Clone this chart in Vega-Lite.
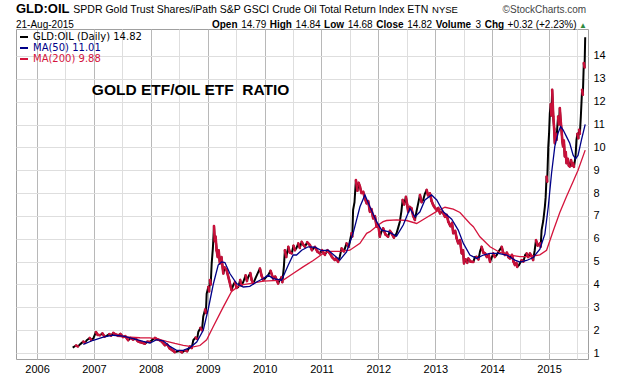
{
  "$schema": "https://vega.github.io/schema/vega-lite/v6.json",
  "width": 572,
  "height": 330,
  "autosize": {"type": "none"},
  "padding": {"left": 16, "top": 29, "right": 32, "bottom": 17},
  "background": "white",
  "config": {
    "view": {"stroke": "#a0a0a0", "strokeWidth": 1},
    "font": "Liberation Sans",
    "text": {"font": "Liberation Sans", "color": "black"}
  },
  "datasets": {
    "price": [
      {"date": "2006/08/18", "value": 1.24}, {"date": "2006/09/08", "value": 1.33}, {"date": "2006/09/20", "value": 1.29},
      {"date": "2006/10/04", "value": 1.38}, {"date": "2006/10/25", "value": 1.50}, {"date": "2006/11/05", "value": 1.45},
      {"date": "2006/11/16", "value": 1.56}, {"date": "2006/12/05", "value": 1.66}, {"date": "2006/12/15", "value": 1.58},
      {"date": "2006/12/28", "value": 1.63}, {"date": "2007/01/14", "value": 1.92}, {"date": "2007/01/25", "value": 1.80},
      {"date": "2007/02/09", "value": 1.78}, {"date": "2007/02/25", "value": 1.86}, {"date": "2007/03/10", "value": 1.72},
      {"date": "2007/03/24", "value": 1.75}, {"date": "2007/04/10", "value": 1.83}, {"date": "2007/04/22", "value": 1.76},
      {"date": "2007/05/05", "value": 1.88}, {"date": "2007/05/20", "value": 1.81}, {"date": "2007/06/06", "value": 1.78},
      {"date": "2007/06/20", "value": 1.84}, {"date": "2007/07/08", "value": 1.70}, {"date": "2007/07/22", "value": 1.74},
      {"date": "2007/08/09", "value": 1.56}, {"date": "2007/08/25", "value": 1.66}, {"date": "2007/09/10", "value": 1.59},
      {"date": "2007/09/28", "value": 1.62}, {"date": "2007/10/10", "value": 1.52}, {"date": "2007/10/23", "value": 1.48},
      {"date": "2007/11/08", "value": 1.45}, {"date": "2007/11/25", "value": 1.41}, {"date": "2007/12/10", "value": 1.50},
      {"date": "2007/12/27", "value": 1.48}, {"date": "2008/01/15", "value": 1.60}, {"date": "2008/01/28", "value": 1.66},
      {"date": "2008/02/12", "value": 1.60}, {"date": "2008/02/29", "value": 1.56}, {"date": "2008/03/15", "value": 1.48},
      {"date": "2008/04/01", "value": 1.34}, {"date": "2008/04/15", "value": 1.38}, {"date": "2008/05/03", "value": 1.19},
      {"date": "2008/05/18", "value": 1.13}, {"date": "2008/06/04", "value": 1.04}, {"date": "2008/06/20", "value": 1.07},
      {"date": "2008/07/06", "value": 1.09}, {"date": "2008/07/20", "value": 1.03}, {"date": "2008/08/08", "value": 1.12},
      {"date": "2008/08/22", "value": 1.08}, {"date": "2008/09/09", "value": 1.29}, {"date": "2008/09/20", "value": 1.22},
      {"date": "2008/09/30", "value": 1.56}, {"date": "2008/10/15", "value": 1.68}, {"date": "2008/10/25", "value": 1.62},
      {"date": "2008/11/01", "value": 1.92}, {"date": "2008/11/15", "value": 2.10}, {"date": "2008/11/25", "value": 2.00},
      {"date": "2008/12/03", "value": 2.6}, {"date": "2008/12/15", "value": 2.9}, {"date": "2008/12/20", "value": 2.75},
      {"date": "2008/12/25", "value": 3.6}, {"date": "2009/01/05", "value": 3.9}, {"date": "2009/01/10", "value": 3.7},
      {"date": "2009/01/15", "value": 4.2}, {"date": "2009/01/20", "value": 4.0}, {"date": "2009/01/26", "value": 4.9},
      {"date": "2009/02/03", "value": 5.6}, {"date": "2009/02/10", "value": 6.56}, {"date": "2009/02/15", "value": 5.9},
      {"date": "2009/02/20", "value": 6.1}, {"date": "2009/02/27", "value": 5.5}, {"date": "2009/03/06", "value": 5.2},
      {"date": "2009/03/12", "value": 5.5}, {"date": "2009/03/20", "value": 4.92}, {"date": "2009/03/30", "value": 5.2},
      {"date": "2009/04/11", "value": 4.48}, {"date": "2009/04/20", "value": 4.75}, {"date": "2009/05/02", "value": 4.63},
      {"date": "2009/05/18", "value": 4.2}, {"date": "2009/06/03", "value": 3.75}, {"date": "2009/06/15", "value": 4.0},
      {"date": "2009/06/25", "value": 4.11}, {"date": "2009/07/05", "value": 3.85}, {"date": "2009/07/16", "value": 3.89},
      {"date": "2009/07/28", "value": 4.2}, {"date": "2009/08/05", "value": 3.95}, {"date": "2009/08/17", "value": 4.11},
      {"date": "2009/09/01", "value": 4.4}, {"date": "2009/09/10", "value": 4.15}, {"date": "2009/09/18", "value": 4.33},
      {"date": "2009/10/01", "value": 4.5}, {"date": "2009/10/10", "value": 4.2}, {"date": "2009/10/20", "value": 4.04},
      {"date": "2009/11/05", "value": 4.3}, {"date": "2009/11/18", "value": 4.5}, {"date": "2009/12/02", "value": 4.70},
      {"date": "2009/12/12", "value": 4.4}, {"date": "2009/12/24", "value": 4.19}, {"date": "2010/01/08", "value": 4.3},
      {"date": "2010/01/24", "value": 4.41}, {"date": "2010/02/08", "value": 4.6}, {"date": "2010/02/25", "value": 4.26},
      {"date": "2010/03/10", "value": 4.35}, {"date": "2010/03/29", "value": 4.04}, {"date": "2010/04/08", "value": 4.2},
      {"date": "2010/04/20", "value": 4.33}, {"date": "2010/04/25", "value": 4.1}, {"date": "2010/05/05", "value": 4.8},
      {"date": "2010/05/11", "value": 5.5}, {"date": "2010/05/20", "value": 5.2}, {"date": "2010/06/02", "value": 5.65},
      {"date": "2010/06/12", "value": 5.4}, {"date": "2010/06/24", "value": 5.36}, {"date": "2010/07/05", "value": 5.7},
      {"date": "2010/07/15", "value": 5.5}, {"date": "2010/07/25", "value": 5.6}, {"date": "2010/08/05", "value": 5.80},
      {"date": "2010/08/15", "value": 5.6}, {"date": "2010/08/27", "value": 5.87}, {"date": "2010/09/05", "value": 5.75},
      {"date": "2010/09/17", "value": 5.65}, {"date": "2010/10/01", "value": 5.85}, {"date": "2010/10/19", "value": 5.72},
      {"date": "2010/11/01", "value": 5.5}, {"date": "2010/11/20", "value": 5.65}, {"date": "2010/12/05", "value": 5.45},
      {"date": "2010/12/22", "value": 5.36}, {"date": "2011/01/05", "value": 5.5}, {"date": "2011/01/23", "value": 5.3},
      {"date": "2011/02/08", "value": 5.5}, {"date": "2011/02/24", "value": 5.36}, {"date": "2011/03/10", "value": 5.2},
      {"date": "2011/03/28", "value": 5.07}, {"date": "2011/04/05", "value": 5.15}, {"date": "2011/04/18", "value": 4.99},
      {"date": "2011/04/28", "value": 5.2}, {"date": "2011/05/10", "value": 5.58}, {"date": "2011/05/25", "value": 5.45},
      {"date": "2011/06/11", "value": 5.80}, {"date": "2011/06/25", "value": 5.65}, {"date": "2011/07/13", "value": 6.24},
      {"date": "2011/07/18", "value": 6.1}, {"date": "2011/07/23", "value": 7.26}, {"date": "2011/08/01", "value": 7.6},
      {"date": "2011/08/10", "value": 8.57}, {"date": "2011/08/20", "value": 8.1}, {"date": "2011/08/28", "value": 8.45},
      {"date": "2011/09/05", "value": 8.28}, {"date": "2011/09/15", "value": 8.0}, {"date": "2011/09/26", "value": 8.06},
      {"date": "2011/10/05", "value": 7.8}, {"date": "2011/10/18", "value": 7.55}, {"date": "2011/10/28", "value": 7.65},
      {"date": "2011/11/08", "value": 7.18}, {"date": "2011/11/18", "value": 7.3}, {"date": "2011/11/29", "value": 6.89},
      {"date": "2011/12/10", "value": 7.0}, {"date": "2011/12/21", "value": 6.53}, {"date": "2012/01/01", "value": 6.6},
      {"date": "2012/01/11", "value": 6.09}, {"date": "2012/01/20", "value": 6.3}, {"date": "2012/02/01", "value": 6.46},
      {"date": "2012/02/15", "value": 6.2}, {"date": "2012/03/04", "value": 6.09}, {"date": "2012/03/15", "value": 6.35},
      {"date": "2012/03/26", "value": 6.24}, {"date": "2012/04/10", "value": 6.05}, {"date": "2012/04/27", "value": 6.24},
      {"date": "2012/05/08", "value": 6.5}, {"date": "2012/05/18", "value": 6.75}, {"date": "2012/05/28", "value": 7.2},
      {"date": "2012/06/05", "value": 7.70}, {"date": "2012/06/15", "value": 7.5}, {"date": "2012/06/26", "value": 7.84},
      {"date": "2012/07/04", "value": 7.5}, {"date": "2012/07/11", "value": 7.18}, {"date": "2012/07/20", "value": 7.4},
      {"date": "2012/08/01", "value": 7.33}, {"date": "2012/08/12", "value": 7.0}, {"date": "2012/08/23", "value": 6.82},
      {"date": "2012/09/02", "value": 7.2}, {"date": "2012/09/13", "value": 7.55}, {"date": "2012/09/24", "value": 7.92},
      {"date": "2012/10/05", "value": 7.6}, {"date": "2012/10/15", "value": 7.70}, {"date": "2012/10/25", "value": 7.95},
      {"date": "2012/11/06", "value": 8.14}, {"date": "2012/11/15", "value": 7.9}, {"date": "2012/11/27", "value": 7.99},
      {"date": "2012/12/08", "value": 7.65}, {"date": "2012/12/18", "value": 7.48}, {"date": "2012/12/30", "value": 7.35},
      {"date": "2013/01/10", "value": 7.26}, {"date": "2013/01/20", "value": 7.35}, {"date": "2013/01/31", "value": 7.11},
      {"date": "2013/02/15", "value": 7.2}, {"date": "2013/03/04", "value": 6.96}, {"date": "2013/03/15", "value": 7.05},
      {"date": "2013/03/25", "value": 6.75}, {"date": "2013/04/08", "value": 6.55}, {"date": "2013/04/18", "value": 6.7},
      {"date": "2013/04/26", "value": 6.24}, {"date": "2013/05/08", "value": 6.35}, {"date": "2013/05/18", "value": 6.02},
      {"date": "2013/05/28", "value": 5.80}, {"date": "2013/06/08", "value": 5.95}, {"date": "2013/06/19", "value": 5.36},
      {"date": "2013/06/28", "value": 5.5}, {"date": "2013/07/04", "value": 4.92}, {"date": "2013/07/15", "value": 5.1},
      {"date": "2013/07/25", "value": 4.95}, {"date": "2013/08/01", "value": 5.14}, {"date": "2013/08/15", "value": 5.0},
      {"date": "2013/09/02", "value": 4.99}, {"date": "2013/09/12", "value": 5.2}, {"date": "2013/09/23", "value": 5.21},
      {"date": "2013/10/05", "value": 5.1}, {"date": "2013/10/15", "value": 5.45}, {"date": "2013/10/25", "value": 5.65},
      {"date": "2013/11/05", "value": 5.4}, {"date": "2013/11/16", "value": 5.36}, {"date": "2013/11/28", "value": 5.2},
      {"date": "2013/12/10", "value": 5.3}, {"date": "2013/12/18", "value": 4.99}, {"date": "2014/01/08", "value": 5.36},
      {"date": "2014/01/18", "value": 5.2}, {"date": "2014/01/30", "value": 5.29}, {"date": "2014/02/12", "value": 5.45},
      {"date": "2014/03/03", "value": 5.65}, {"date": "2014/03/12", "value": 5.4}, {"date": "2014/03/24", "value": 5.29},
      {"date": "2014/04/05", "value": 5.4}, {"date": "2014/04/15", "value": 5.2}, {"date": "2014/04/25", "value": 5.14},
      {"date": "2014/05/08", "value": 5.3}, {"date": "2014/05/18", "value": 5.0}, {"date": "2014/05/27", "value": 4.85},
      {"date": "2014/06/05", "value": 4.95}, {"date": "2014/06/11", "value": 4.77}, {"date": "2014/06/22", "value": 4.85},
      {"date": "2014/07/09", "value": 5.07}, {"date": "2014/07/20", "value": 5.0}, {"date": "2014/08/01", "value": 5.3},
      {"date": "2014/08/10", "value": 5.36}, {"date": "2014/08/20", "value": 5.2}, {"date": "2014/08/31", "value": 5.36},
      {"date": "2014/09/10", "value": 5.25}, {"date": "2014/09/21", "value": 5.07}, {"date": "2014/10/01", "value": 5.5},
      {"date": "2014/10/09", "value": 5.94}, {"date": "2014/10/20", "value": 5.7}, {"date": "2014/11/03", "value": 5.80},
      {"date": "2014/11/08", "value": 5.65}, {"date": "2014/11/14", "value": 6.38}, {"date": "2014/11/25", "value": 6.8},
      {"date": "2014/12/05", "value": 7.40}, {"date": "2014/12/10", "value": 7.8}, {"date": "2014/12/16", "value": 8.72},
      {"date": "2014/12/20", "value": 8.5}, {"date": "2014/12/27", "value": 10.04}, {"date": "2015/01/01", "value": 10.6},
      {"date": "2015/01/06", "value": 11.50}, {"date": "2015/01/12", "value": 11.9}, {"date": "2015/01/16", "value": 11.4},
      {"date": "2015/01/21", "value": 12.52}, {"date": "2015/01/28", "value": 11.35}, {"date": "2015/02/03", "value": 10.8},
      {"date": "2015/02/07", "value": 10.18}, {"date": "2015/02/12", "value": 10.6}, {"date": "2015/02/18", "value": 10.33},
      {"date": "2015/02/23", "value": 10.9}, {"date": "2015/02/28", "value": 11.35}, {"date": "2015/03/05", "value": 11.0},
      {"date": "2015/03/11", "value": 11.72}, {"date": "2015/03/16", "value": 11.2}, {"date": "2015/03/22", "value": 10.77},
      {"date": "2015/03/27", "value": 10.3}, {"date": "2015/04/01", "value": 10.04}, {"date": "2015/04/06", "value": 10.3},
      {"date": "2015/04/12", "value": 9.60}, {"date": "2015/04/18", "value": 9.8}, {"date": "2015/04/23", "value": 9.31},
      {"date": "2015/05/01", "value": 9.5}, {"date": "2015/05/08", "value": 9.2}, {"date": "2015/05/14", "value": 9.16},
      {"date": "2015/05/22", "value": 9.45}, {"date": "2015/05/28", "value": 9.2}, {"date": "2015/06/04", "value": 9.31},
      {"date": "2015/06/10", "value": 9.15}, {"date": "2015/06/15", "value": 9.38}, {"date": "2015/06/20", "value": 9.6},
      {"date": "2015/06/26", "value": 10.33}, {"date": "2015/07/02", "value": 10.6}, {"date": "2015/07/08", "value": 10.4},
      {"date": "2015/07/13", "value": 10.77}, {"date": "2015/07/18", "value": 10.6}, {"date": "2015/07/24", "value": 11.35},
      {"date": "2015/08/01", "value": 12.52}, {"date": "2015/08/06", "value": 12.3}, {"date": "2015/08/12", "value": 13.69},
      {"date": "2015/08/17", "value": 13.5}, {"date": "2015/08/21", "value": 14.82}
    ],
    "ma50": [
      {"date": "2006/10/25", "value": 1.38}, {"date": "2006/12/28", "value": 1.56}, {"date": "2007/03/02", "value": 1.70},
      {"date": "2007/05/05", "value": 1.78}, {"date": "2007/07/08", "value": 1.74}, {"date": "2007/09/10", "value": 1.63},
      {"date": "2007/11/14", "value": 1.51}, {"date": "2007/12/27", "value": 1.44}, {"date": "2008/02/08", "value": 1.59},
      {"date": "2008/03/21", "value": 1.53}, {"date": "2008/05/03", "value": 1.29}, {"date": "2008/06/15", "value": 1.12},
      {"date": "2008/07/28", "value": 1.12}, {"date": "2008/09/09", "value": 1.24}, {"date": "2008/10/22", "value": 1.48},
      {"date": "2008/12/03", "value": 2.0}, {"date": "2009/01/05", "value": 2.95}, {"date": "2009/02/05", "value": 4.0},
      {"date": "2009/03/09", "value": 4.85}, {"date": "2009/03/31", "value": 4.99}, {"date": "2009/04/21", "value": 4.96},
      {"date": "2009/05/23", "value": 4.48}, {"date": "2009/07/05", "value": 4.04}, {"date": "2009/08/17", "value": 3.89},
      {"date": "2009/09/28", "value": 3.92}, {"date": "2009/11/10", "value": 4.11}, {"date": "2009/12/24", "value": 4.26},
      {"date": "2010/01/24", "value": 4.41}, {"date": "2010/02/25", "value": 4.26}, {"date": "2010/04/20", "value": 4.19},
      {"date": "2010/06/02", "value": 4.85}, {"date": "2010/07/03", "value": 5.29}, {"date": "2010/07/25", "value": 5.29},
      {"date": "2010/08/27", "value": 5.50}, {"date": "2010/10/08", "value": 5.65}, {"date": "2010/11/20", "value": 5.63},
      {"date": "2011/01/02", "value": 5.48}, {"date": "2011/02/13", "value": 5.50}, {"date": "2011/04/29", "value": 5.07},
      {"date": "2011/06/11", "value": 5.43}, {"date": "2011/07/23", "value": 6.24}, {"date": "2011/09/05", "value": 7.40},
      {"date": "2011/10/07", "value": 7.92}, {"date": "2011/11/08", "value": 7.40}, {"date": "2011/12/21", "value": 6.75},
      {"date": "2012/01/22", "value": 6.38}, {"date": "2012/03/04", "value": 6.31}, {"date": "2012/04/27", "value": 6.12},
      {"date": "2012/06/09", "value": 6.60}, {"date": "2012/07/22", "value": 7.33}, {"date": "2012/08/23", "value": 6.96},
      {"date": "2012/09/24", "value": 7.18}, {"date": "2012/10/26", "value": 7.70}, {"date": "2012/12/08", "value": 7.92},
      {"date": "2013/01/10", "value": 7.70}, {"date": "2013/02/21", "value": 7.18}, {"date": "2013/04/16", "value": 6.86},
      {"date": "2013/05/28", "value": 6.38}, {"date": "2013/06/30", "value": 5.80}, {"date": "2013/08/11", "value": 5.29},
      {"date": "2013/09/23", "value": 5.14}, {"date": "2013/11/05", "value": 5.29}, {"date": "2013/12/18", "value": 5.36},
      {"date": "2014/02/09", "value": 5.36}, {"date": "2014/04/04", "value": 5.29}, {"date": "2014/05/27", "value": 5.07},
      {"date": "2014/06/28", "value": 4.98}, {"date": "2014/08/10", "value": 5.05}, {"date": "2014/09/21", "value": 5.18},
      {"date": "2014/11/03", "value": 5.55}, {"date": "2014/12/05", "value": 6.2}, {"date": "2014/12/27", "value": 7.4},
      {"date": "2015/01/17", "value": 8.87}, {"date": "2015/02/07", "value": 10.04}, {"date": "2015/02/28", "value": 10.63},
      {"date": "2015/03/16", "value": 10.91}, {"date": "2015/04/01", "value": 10.77}, {"date": "2015/04/23", "value": 10.47},
      {"date": "2015/05/14", "value": 10.18}, {"date": "2015/06/04", "value": 9.67}, {"date": "2015/06/20", "value": 9.5},
      {"date": "2015/07/06", "value": 9.65}, {"date": "2015/07/28", "value": 10.33}, {"date": "2015/08/21", "value": 11.01}
    ],
    "ma200": [
      {"date": "2007/05/27", "value": 1.73}, {"date": "2007/08/20", "value": 1.70}, {"date": "2007/10/23", "value": 1.67},
      {"date": "2007/12/27", "value": 1.66}, {"date": "2008/02/29", "value": 1.59}, {"date": "2008/04/12", "value": 1.51},
      {"date": "2008/06/04", "value": 1.42}, {"date": "2008/07/28", "value": 1.34}, {"date": "2008/09/30", "value": 1.27},
      {"date": "2008/11/12", "value": 1.33}, {"date": "2008/12/25", "value": 1.58}, {"date": "2009/02/04", "value": 2.14},
      {"date": "2009/04/11", "value": 3.02}, {"date": "2009/06/03", "value": 3.70}, {"date": "2009/07/27", "value": 3.97},
      {"date": "2009/09/28", "value": 4.04}, {"date": "2009/12/24", "value": 4.15}, {"date": "2010/02/25", "value": 4.17},
      {"date": "2010/05/01", "value": 4.19}, {"date": "2010/07/03", "value": 4.48}, {"date": "2010/09/05", "value": 4.77},
      {"date": "2010/11/09", "value": 5.05}, {"date": "2011/01/12", "value": 5.36}, {"date": "2011/02/24", "value": 5.45},
      {"date": "2011/04/29", "value": 5.45}, {"date": "2011/07/02", "value": 5.5}, {"date": "2011/09/05", "value": 5.80},
      {"date": "2011/10/18", "value": 6.24}, {"date": "2011/11/08", "value": 6.31}, {"date": "2011/12/31", "value": 6.60},
      {"date": "2012/02/01", "value": 6.75}, {"date": "2012/02/23", "value": 6.80}, {"date": "2012/04/27", "value": 6.83},
      {"date": "2012/07/01", "value": 6.80}, {"date": "2012/09/03", "value": 6.67}, {"date": "2012/11/06", "value": 6.93},
      {"date": "2013/01/10", "value": 7.20}, {"date": "2013/03/04", "value": 7.38}, {"date": "2013/04/26", "value": 7.30},
      {"date": "2013/06/08", "value": 7.15}, {"date": "2013/08/11", "value": 6.67}, {"date": "2013/09/02", "value": 6.53},
      {"date": "2013/10/14", "value": 6.09}, {"date": "2013/12/18", "value": 5.65}, {"date": "2014/02/20", "value": 5.40},
      {"date": "2014/04/25", "value": 5.29}, {"date": "2014/06/28", "value": 5.22}, {"date": "2014/08/31", "value": 5.22},
      {"date": "2014/11/03", "value": 5.30}, {"date": "2014/12/16", "value": 5.50}, {"date": "2015/01/28", "value": 6.35},
      {"date": "2015/03/11", "value": 7.15}, {"date": "2015/04/23", "value": 7.85}, {"date": "2015/06/04", "value": 8.50},
      {"date": "2015/07/06", "value": 9.0}, {"date": "2015/08/21", "value": 9.88}
    ]
  },
  "layer": [
    {
      "data": {"name": "price", "format": {"parse": {"date": "date"}}},
      "mark": {"type": "line", "strokeWidth": 2, "strokeJoin": "round"},
      "encoding": {
        "x": {
          "field": "date", "type": "temporal",
          "scale": {"domain": [{"year": 2005, "month": 8, "date": 19}, {"year": 2015, "month": 9, "date": 8}]},
          "axis": {
            "title": null,
            "tickCount": 40,
            "values": [
              {"year": 2006, "month": 1, "date": 1}, {"year": 2006, "month": 7, "date": 1},
              {"year": 2007, "month": 1, "date": 1}, {"year": 2007, "month": 7, "date": 1},
              {"year": 2008, "month": 1, "date": 1}, {"year": 2008, "month": 7, "date": 1},
              {"year": 2009, "month": 1, "date": 1}, {"year": 2009, "month": 7, "date": 1},
              {"year": 2010, "month": 1, "date": 1}, {"year": 2010, "month": 7, "date": 1},
              {"year": 2011, "month": 1, "date": 1}, {"year": 2011, "month": 7, "date": 1},
              {"year": 2012, "month": 1, "date": 1}, {"year": 2012, "month": 7, "date": 1},
              {"year": 2013, "month": 1, "date": 1}, {"year": 2013, "month": 7, "date": 1},
              {"year": 2014, "month": 1, "date": 1}, {"year": 2014, "month": 7, "date": 1},
              {"year": 2015, "month": 1, "date": 1}, {"year": 2015, "month": 7, "date": 1}
            ],
            "labelExpr": "month(datum.value) == 0 ? timeFormat(datum.value, '%Y') : ''",
            "grid": true,
            "gridColor": {"condition": {"test": "month(datum.value) == 0", "value": "#b8b8b8"}, "value": "#dedede"},
            "gridWidth": 1,
            "ticks": false,
            "domain": false,
            "labelFont": "Liberation Sans",
            "labelFontSize": 11,
            "labelColor": "#000000",
            "labelPadding": 4,
            "labelOverlap": false,
            "labelFlush": false
          }
        },
        "y": {
          "field": "value", "type": "quantitative",
          "scale": {"domain": [0.74, 15.18], "nice": false, "zero": false},
          "axis": {
            "title": null,
            "orient": "right",
            "tickCount": 30,
            "values": [1, 2, 3, 4, 5, 6, 7, 8, 9, 10, 11, 12, 13, 14],
            "format": "d",
            "grid": true,
            "gridColor": "#dedede",
            "ticks": false,
            "domain": false,
            "labelFont": "Liberation Sans",
            "labelFontSize": 11,
            "labelColor": "#000000",
            "labelPadding": 5,
            "labelOverlap": false,
            "labelFlush": false
          }
        },
        "color": {
          "datum": "GLD:OIL (Daily) 14.82", "type": "nominal",
          "scale": {
            "domain": ["GLD:OIL (Daily) 14.82", "MA(50) 11.01", "MA(200) 9.88"],
            "range": ["#000000", "#000088", "#d4143c"]
          },
          "legend": {
            "title": null,
            "orient": "top-left",
            "offset": 0,
            "padding": 3,
            "symbolType": "stroke",
            "symbolSize": 64,
            "symbolStrokeWidth": 2,
            "labelFont": "DejaVu Sans",
            "labelFontSize": 10,
            "labelOffset": 4,
            "rowPadding": 1,
            "labelLimit": 300,
            "encode": {"labels": {"update": {"fill": {"scale": "color", "field": "value"}}}}
          }
        }
      }
    },
    {
      "data": {"name": "price", "format": {"parse": {"date": "date"}}},
      "transform": [
        {"window": [{"op": "lag", "field": "value", "as": "pv"}, {"op": "lag", "field": "date", "as": "pd"}], "sort": [{"field": "date"}]},
        {"filter": "datum.pv != null && datum.value < datum.pv"}
      ],
      "mark": {"type": "rule", "color": "#c8103a", "strokeWidth": 2.6, "strokeCap": "round"},
      "encoding": {
        "x": {"field": "pd", "type": "temporal"},
        "x2": {"field": "date"},
        "y": {"field": "pv", "type": "quantitative"},
        "y2": {"field": "value"}
      }
    },
    {
      "data": {"name": "ma200", "format": {"parse": {"date": "date"}}},
      "mark": {"type": "line", "strokeWidth": 1.3},
      "encoding": {
        "x": {"field": "date", "type": "temporal"},
        "y": {"field": "value", "type": "quantitative"},
        "color": {"datum": "MA(200) 9.88", "type": "nominal"}
      }
    },
    {
      "data": {"name": "ma50", "format": {"parse": {"date": "date"}}},
      "mark": {"type": "line", "strokeWidth": 1.3},
      "encoding": {
        "x": {"field": "date", "type": "temporal"},
        "y": {"field": "value", "type": "quantitative"},
        "color": {"datum": "MA(50) 11.01", "type": "nominal"}
      }
    },
    {
      "data": {"values": [{}]},
      "mark": {"type": "text", "text": "GOLD ETF/OIL ETF\u00a0 RATIO", "align": "left", "baseline": "middle", "fontSize": 15.5, "fontWeight": "bold"},
      "encoding": {"x": {"datum": {"year": 2006, "month": 12, "date": 19}, "type": "temporal"}, "y": {"datum": 12.51, "type": "quantitative"}}
    },
    {
      "data": {"values": [{}]},
      "mark": {"type": "text", "text": "GLD:OIL", "align": "left", "baseline": "alphabetic", "fontSize": 13, "fontWeight": "bold"},
      "encoding": {"x": {"datum": {"year": 2005, "month": 8, "date": 19}, "type": "temporal"}, "y": {"datum": 15.89, "type": "quantitative"}}
    },
    {
      "data": {"values": [{}]},
      "mark": {"type": "text", "text": "SPDR Gold Trust Shares/iPath S&P GSCI Crude Oil Total Return Index ETN", "align": "left", "baseline": "alphabetic", "fontSize": 10.5},
      "encoding": {"x": {"datum": {"year": 2006, "month": 8, "date": 22}, "type": "temporal"}, "y": {"datum": 15.89, "type": "quantitative"}}
    },
    {
      "data": {"values": [{}]},
      "mark": {"type": "text", "text": "NYSE", "align": "left", "baseline": "alphabetic", "fontSize": 9.5},
      "encoding": {"x": {"datum": {"year": 2012, "month": 12, "date": 11}, "type": "temporal"}, "y": {"datum": 15.89, "type": "quantitative"}}
    },
    {
      "data": {"values": [{}]},
      "mark": {"type": "text", "text": "©StockCharts.com", "align": "right", "baseline": "alphabetic", "fontSize": 10, "color": "#444444"},
      "encoding": {"x": {"datum": {"year": 2015, "month": 8, "date": 27}, "type": "temporal"}, "y": {"datum": 15.89, "type": "quantitative"}}
    },
    {
      "data": {"values": [{}]},
      "mark": {"type": "text", "text": "21-Aug-2015", "align": "left", "baseline": "alphabetic", "fontSize": 10},
      "encoding": {"x": {"datum": {"year": 2005, "month": 8, "date": 19}, "type": "temporal"}, "y": {"datum": 15.24, "type": "quantitative"}}
    },
    {
      "data": {"values": [{}]},
      "mark": {"type": "text", "text": "Open", "align": "left", "baseline": "alphabetic", "fontSize": 10, "fontWeight": "bold"},
      "encoding": {"x": {"datum": {"year": 2009, "month": 1, "date": 28}, "type": "temporal"}, "y": {"datum": 15.24, "type": "quantitative"}}
    },
    {
      "data": {"values": [{}]},
      "mark": {"type": "text", "text": "14.79", "align": "left", "baseline": "alphabetic", "fontSize": 10},
      "encoding": {"x": {"datum": {"year": 2009, "month": 8, "date": 4}, "type": "temporal"}, "y": {"datum": 15.24, "type": "quantitative"}}
    },
    {
      "data": {"values": [{}]},
      "mark": {"type": "text", "text": "High", "align": "left", "baseline": "alphabetic", "fontSize": 10, "fontWeight": "bold"},
      "encoding": {"x": {"datum": {"year": 2010, "month": 2, "date": 3}, "type": "temporal"}, "y": {"datum": 15.24, "type": "quantitative"}}
    },
    {
      "data": {"values": [{}]},
      "mark": {"type": "text", "text": "14.84", "align": "left", "baseline": "alphabetic", "fontSize": 10},
      "encoding": {"x": {"datum": {"year": 2010, "month": 7, "date": 19}, "type": "temporal"}, "y": {"datum": 15.24, "type": "quantitative"}}
    },
    {
      "data": {"values": [{}]},
      "mark": {"type": "text", "text": "Low", "align": "left", "baseline": "alphabetic", "fontSize": 10, "fontWeight": "bold"},
      "encoding": {"x": {"datum": {"year": 2011, "month": 1, "date": 18}, "type": "temporal"}, "y": {"datum": 15.24, "type": "quantitative"}}
    },
    {
      "data": {"values": [{}]},
      "mark": {"type": "text", "text": "14.68", "align": "left", "baseline": "alphabetic", "fontSize": 10},
      "encoding": {"x": {"datum": {"year": 2011, "month": 6, "date": 18}, "type": "temporal"}, "y": {"datum": 15.24, "type": "quantitative"}}
    },
    {
      "data": {"values": [{}]},
      "mark": {"type": "text", "text": "Close", "align": "left", "baseline": "alphabetic", "fontSize": 10, "fontWeight": "bold"},
      "encoding": {"x": {"datum": {"year": 2011, "month": 12, "date": 19}, "type": "temporal"}, "y": {"datum": 15.24, "type": "quantitative"}}
    },
    {
      "data": {"values": [{}]},
      "mark": {"type": "text", "text": "14.82", "align": "left", "baseline": "alphabetic", "fontSize": 10},
      "encoding": {"x": {"datum": {"year": 2012, "month": 7, "date": 4}, "type": "temporal"}, "y": {"datum": 15.24, "type": "quantitative"}}
    },
    {
      "data": {"values": [{}]},
      "mark": {"type": "text", "text": "Volume", "align": "left", "baseline": "alphabetic", "fontSize": 10, "fontWeight": "bold"},
      "encoding": {"x": {"datum": {"year": 2013, "month": 1, "date": 4}, "type": "temporal"}, "y": {"datum": 15.24, "type": "quantitative"}}
    },
    {
      "data": {"values": [{}]},
      "mark": {"type": "text", "text": "3", "align": "left", "baseline": "alphabetic", "fontSize": 10},
      "encoding": {"x": {"datum": {"year": 2013, "month": 9, "date": 16}, "type": "temporal"}, "y": {"datum": 15.24, "type": "quantitative"}}
    },
    {
      "data": {"values": [{}]},
      "mark": {"type": "text", "text": "Chg", "align": "left", "baseline": "alphabetic", "fontSize": 10, "fontWeight": "bold"},
      "encoding": {"x": {"datum": {"year": 2013, "month": 11, "date": 14}, "type": "temporal"}, "y": {"datum": 15.24, "type": "quantitative"}}
    },
    {
      "data": {"values": [{}]},
      "mark": {"type": "text", "text": "+0.32 (+2.23%)", "align": "left", "baseline": "alphabetic", "fontSize": 10},
      "encoding": {"x": {"datum": {"year": 2014, "month": 4, "date": 10}, "type": "temporal"}, "y": {"datum": 15.24, "type": "quantitative"}}
    },
    {
      "data": {"values": [{}]},
      "mark": {"type": "text", "text": "▲", "align": "left", "baseline": "alphabetic", "fontSize": 8, "color": "#2e8b3e"},
      "encoding": {"x": {"datum": {"year": 2015, "month": 7, "date": 12}, "type": "temporal"}, "y": {"datum": 15.24, "type": "quantitative"}}
    }
  ]
}
